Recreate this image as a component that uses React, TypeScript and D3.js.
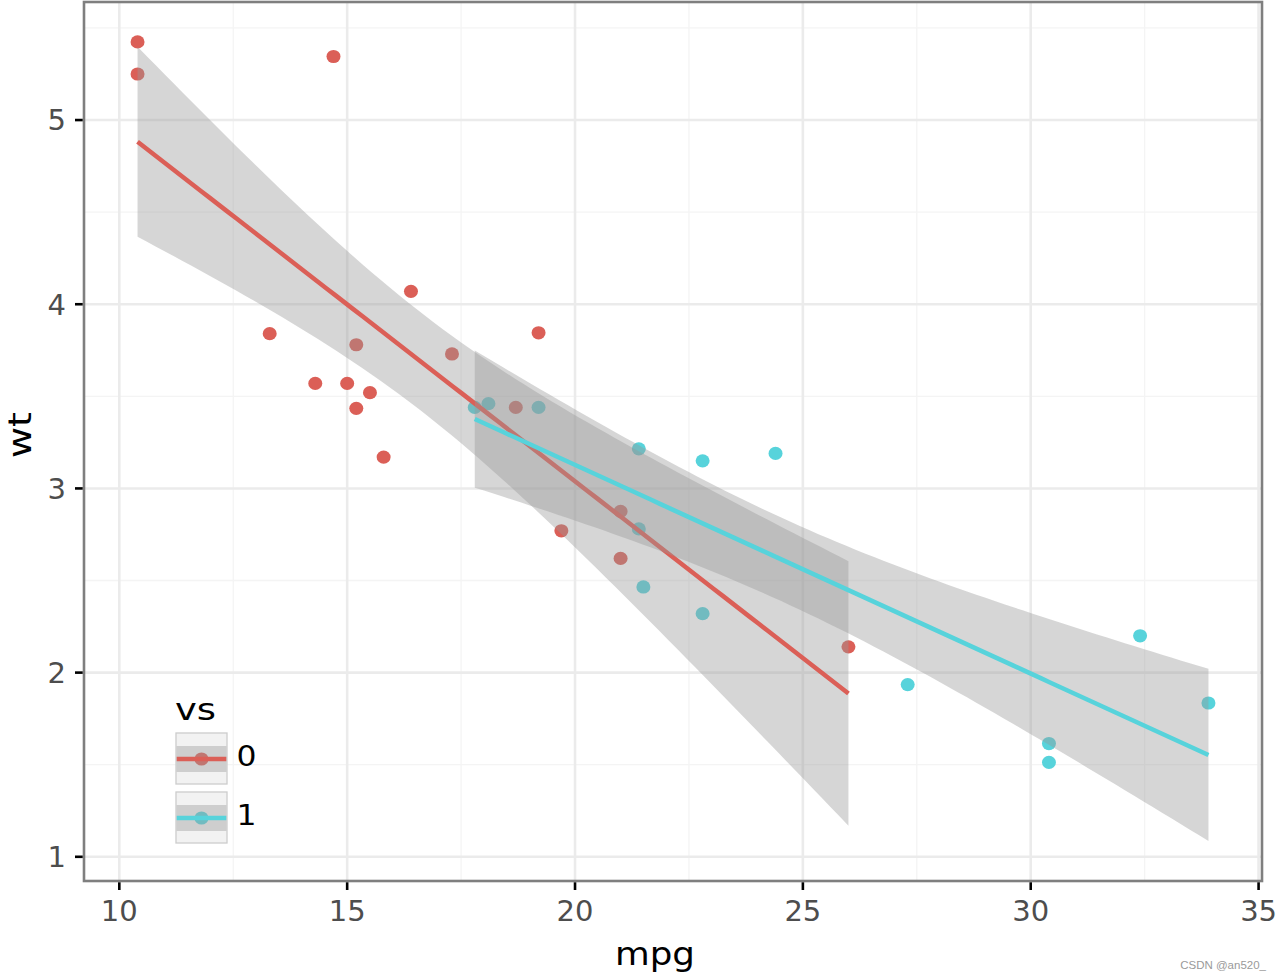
import React from "react";
import * as d3 from "d3";

// mtcars: mpg, wt, vs
const mpg = [21.0, 21.0, 22.8, 21.4, 18.7, 18.1, 14.3, 24.4, 22.8, 19.2, 17.8, 16.4, 17.3, 15.2, 10.4, 10.4, 14.7, 32.4, 30.4, 33.9, 21.5, 15.5, 15.2, 13.3, 19.2, 27.3, 26.0, 30.4, 15.8, 19.7, 15.0, 21.4];
const wt = [2.62, 2.875, 2.32, 3.215, 3.44, 3.46, 3.57, 3.19, 3.15, 3.44, 3.44, 4.07, 3.73, 3.78, 5.25, 5.424, 5.345, 2.2, 1.615, 1.835, 2.465, 3.52, 3.435, 3.84, 3.845, 1.935, 2.14, 1.513, 3.17, 2.77, 3.57, 2.78];
const vs = [0, 0, 1, 1, 0, 1, 0, 1, 1, 1, 1, 0, 0, 0, 0, 0, 0, 1, 1, 1, 1, 0, 0, 0, 0, 1, 0, 1, 0, 0, 0, 1];

const groups = ["0", "1"];
const groupColors = ["#db5f57", "#57d3db"];
const tQuantile = { 16: 2.119905, 12: 2.178813 } as Record<number, number>;
const xTicks = [10, 15, 20, 25, 30, 35];
const xMinor = [12.5, 17.5, 22.5, 27.5, 32.5];
const yTicks = [1, 2, 3, 4, 5];
const yMinor = [1.5, 2.5, 3.5, 4.5, 5.5];

const W = 1280;
const H = 980;
const PL = 84, PR = 1262, PT = 2, PB = 881;

function fitGroup(g: number) {
  const xs: number[] = [], ys: number[] = [];
  mpg.forEach((m, i) => { if (vs[i] === g) { xs.push(m); ys.push(wt[i]); } });
  const n = xs.length;
  const xm = d3.mean(xs)!, ym = d3.mean(ys)!;
  let sxx = 0, sxy = 0;
  for (let i = 0; i < n; i++) { sxx += (xs[i] - xm) ** 2; sxy += (xs[i] - xm) * (ys[i] - ym); }
  const b = sxy / sxx, a = ym - b * xm;
  let rss = 0;
  for (let i = 0; i < n; i++) rss += (ys[i] - a - b * xs[i]) ** 2;
  const s = Math.sqrt(rss / (n - 2));
  const t = tQuantile[n - 2];
  const [x0, x1] = d3.extent(xs) as [number, number];
  const pts = d3.range(80).map((k) => {
    const x = x0 + (x1 - x0) * k / 79;
    const y = a + b * x;
    const se = s * Math.sqrt(1 / n + (x - xm) ** 2 / sxx);
    return { x, y, lo: y - t * se, hi: y + t * se };
  });
  return pts;
}

export default function App() {
  const fits = [fitGroup(0), fitGroup(1)];
  const xExt = d3.extent(mpg) as [number, number];
  const yMin = Math.min(d3.min(wt)!, ...fits.map(f => d3.min(f, d => d.lo)!));
  const yMax = Math.max(d3.max(wt)!, ...fits.map(f => d3.max(f, d => d.hi)!));
  const xPad = (xExt[1] - xExt[0]) * 0.05;
  const yPad = (yMax - yMin) * 0.05;
  const x = d3.scaleLinear().domain([xExt[0] - xPad, xExt[1] + xPad]).range([PL, PR]);
  const y = d3.scaleLinear().domain([yMin - yPad, yMax + yPad]).range([PB, PT]);

  const area = d3.area<{ x: number; lo: number; hi: number }>()
    .x(d => x(d.x)).y0(d => y(d.lo)).y1(d => y(d.hi));
  const line = d3.line<{ x: number; y: number }>().x(d => x(d.x)).y(d => y(d.y));

  const font = "DejaVu Sans, sans-serif";

  return (
    <svg width={W} height={H} style={{ position: "absolute", left: 0, top: 0, fontFamily: font }}>
      <rect x={0} y={0} width={W} height={H} fill="#ffffff" />
      <defs>
        <clipPath id="panel"><rect x={PL} y={PT} width={PR - PL} height={PB - PT} /></clipPath>
      </defs>
      <g clipPath="url(#panel)">
        {xMinor.map(v => <line key={"xm" + v} x1={x(v)} x2={x(v)} y1={PT} y2={PB} stroke="#f4f4f4" strokeWidth={1.3} />)}
        {yMinor.map(v => <line key={"ym" + v} y1={y(v)} y2={y(v)} x1={PL} x2={PR} stroke="#f4f4f4" strokeWidth={1.3} />)}
        {xTicks.map(v => <line key={"xg" + v} x1={x(v)} x2={x(v)} y1={PT} y2={PB} stroke="#ebebeb" strokeWidth={2.6} />)}
        {yTicks.map(v => <line key={"yg" + v} y1={y(v)} y2={y(v)} x1={PL} x2={PR} stroke="#ebebeb" strokeWidth={2.6} />)}
        {mpg.map((m, i) => (
          <ellipse key={"p" + i} cx={x(m)} cy={y(wt[i])} rx={7} ry={6.6} fill={groupColors[vs[i]]} />
        ))}
        {fits.map((f, gi) => (
          <g key={"f" + gi}>
            <path d={area(f)!} fill="#999999" fillOpacity={0.4} />
            <path d={line(f)!} fill="none" stroke={groupColors[gi]} strokeWidth={4.5} />
          </g>
        ))}
      </g>
      <rect x={PL} y={PT} width={PR - PL} height={PB - PT} fill="none" stroke="#7f7f7f" strokeWidth={2.6} />
      {xTicks.map(v => (
        <g key={"xt" + v}>
          <line x1={x(v)} x2={x(v)} y1={PB + 1.3} y2={PB + 9} stroke="#000" strokeWidth={2.6} />
          <text x={x(v)} y={921} textAnchor="middle" fontSize={29} fill="#4d4d4d">{v}</text>
        </g>
      ))}
      {yTicks.map(v => (
        <g key={"yt" + v}>
          <line x1={PL - 1.3} x2={PL - 9} y1={y(v)} y2={y(v)} stroke="#000" strokeWidth={2.6} />
          <text x={66} y={y(v)} dy="0.36em" textAnchor="end" fontSize={29} fill="#4d4d4d">{v}</text>
        </g>
      ))}
      <text x={655} y={965} textAnchor="middle" fontSize={32} fill="#000" textLength={80} lengthAdjust="spacingAndGlyphs">mpg</text>
      <text transform={`translate(31,435) rotate(-90)`} textAnchor="middle" fontSize={32} fill="#000" textLength={46} lengthAdjust="spacingAndGlyphs">wt</text>

      {/* legend */}
      <text x={175} y={720} fontSize={31} fill="#000" textLength={41} lengthAdjust="spacingAndGlyphs">vs</text>
      {groups.map((g, gi) => {
        const ky = 733 + gi * 59;
        return (
          <g key={"lg" + g}>
            <rect x={176} y={ky} width={51} height={51} fill="#f2f2f2" stroke="#cccccc" strokeWidth={1.3} />
            <ellipse cx={201.5} cy={ky + 26} rx={7} ry={6.6} fill={groupColors[gi]} />
            <rect x={176.7} y={ky + 13} width={49.6} height={26} fill="#999999" fillOpacity={0.4} />
            <line x1={176.7} x2={226.3} y1={ky + 26} y2={ky + 26} stroke={groupColors[gi]} strokeWidth={4.5} />
            <text x={236.5} y={ky + 33} fontSize={28} fill="#000" textLength={20} lengthAdjust="spacingAndGlyphs">{g}</text>
          </g>
        );
      })}
      <text x={1266} y={969} textAnchor="end" fontSize={11.5} fill="#9a9a9a" fontFamily="Liberation Sans, Arial, sans-serif">CSDN @an520_</text>
    </svg>
  );
}
